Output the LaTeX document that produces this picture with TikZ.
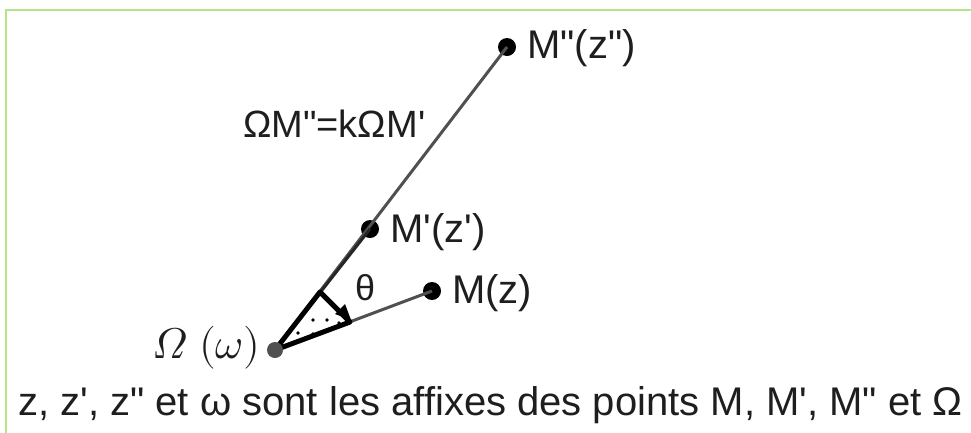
\documentclass[tikz,border=0pt]{standalone}
\usepackage{fontspec}
\setmainfont{Liberation Sans}[Ligatures=TeXOff]
\usepackage{unicode-math}
\setmathfont{Latin Modern Math}
\newcommand\sq{\symbol{"27}}
\newcommand\dq{\symbol{"22}}
\definecolor{framegreen}{HTML}{B5E38A}
\definecolor{txt}{HTML}{1E1E1E}
\definecolor{seg}{HTML}{505050}
\begin{document}
\begin{tikzpicture}[x=1pt,y=-1pt,
  pt/.style={circle,fill=black,inner sep=0,minimum size=18pt},
  ptO/.style={circle,fill=seg,inner sep=0,minimum size=16pt},
  lab/.style={inner sep=0,anchor=base west,text=txt,font=\fontsize{40}{48}\selectfont},
  segline/.style={line width=3pt,color=seg},
  dotty/.style={fill=black}]
\useasboundingbox (0,0) rectangle (971,432);
\fill[white] (0,0) rectangle (971,432);
\draw[framegreen,line width=2pt] (5.5,433) -- (5.5,10) -- (972,10);
% points
\coordinate (O) at (275,350);
\coordinate (P1) at (320,292);
\coordinate (P2) at (350,322);
\node[pt] (Mpp) at (507,47) {};
\node[pt] (Mp) at (370,229) {};
\node[pt] (M) at (432,291) {};
% segments
\draw[segline] (O) -- (Mpp.center);
\draw[line width=3pt,color=black!85] (O) -- (Mp.center);
\draw[segline] (O) -- (M.center);
% angle marker
\draw[line width=5pt,line join=round] (O) -- (P1) -- (P2) -- cycle;
\fill (335,314) -- (345,304) -- (351,320) -- cycle;
\foreach \p in {(313,320),(327,320),(298,333),(313,334),(339,323)}
  \fill[dotty] \p circle (1.8pt);
\node[ptO] (Om) at (O) {};
% labels
\node[lab] (lMpp) at (527,58) {M\dq(z\dq)};
\node[lab] (lMp) at (390,242) {M\sq(z\sq)};
\node[lab] (lM) at (452,303) {M(z)};
\node[lab,font=\fontsize{36}{44}\selectfont] (lth) at (355,300) {θ};
\node[lab,font=\fontsize{38}{46}\selectfont] (lrel) at (243,137) {ΩM\dq=kΩM\sq};
\node[lab,font=\fontsize{43}{50}\selectfont] (lO) at (152,358) {$\symit{\Omega}\ (\omega)$};
\node[lab,font=\fontsize{40}{48}\selectfont] (cap) at (18,415) {z, z\sq, z\dq\ et ω sont les affixes des points M, M\sq, M\dq\ et Ω};
\end{tikzpicture}
\end{document}
